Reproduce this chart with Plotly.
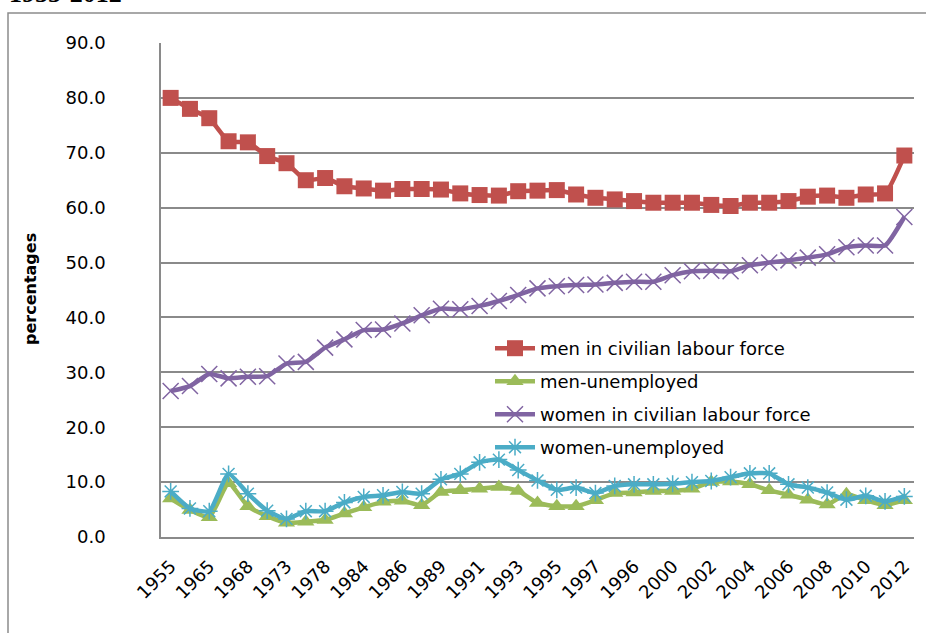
import plotly.graph_objects as go

# Survey years (only every second one is labelled on the axis)
years = ["1955", "1960", "1965", "1967", "1968", "1970", "1973", "1975", "1978", "1980",
         "1984", "1985", "1986", "1987", "1989", "1990", "1991", "1992", "1993", "1994",
         "1995", "1996", "1997", "1998", "1996", "1999", "2000", "2001", "2002", "2003",
         "2004", "2005", "2006", "2007", "2008", "2009", "2010", "2011", "2012"]

men_labour = [80.0, 78.0, 76.3, 72.1, 71.9, 69.4, 68.1, 65.0, 65.4, 63.9,
              63.5, 63.1, 63.4, 63.4, 63.3, 62.6, 62.3, 62.2, 63.0, 63.1,
              63.2, 62.4, 61.8, 61.5, 61.2, 60.9, 60.9, 60.9, 60.5, 60.3,
              60.9, 60.9, 61.2, 62.0, 62.2, 61.8, 62.4, 62.6, 69.5]

men_unemployed = [7.0, 4.9, 3.6, 9.8, 5.6, 3.8, 2.6, 2.8, 3.1, 4.3,
                  5.4, 6.4, 6.6, 5.8, 8.2, 8.5, 8.8, 9.1, 8.4, 6.2,
                  5.6, 5.6, 6.7, 8.0, 8.1, 8.4, 8.4, 8.8, 10.0, 10.1,
                  9.6, 8.5, 7.7, 6.8, 5.9, 7.8, 6.7, 5.8, 6.7]

women_labour = [26.6, 27.5, 29.7, 28.9, 29.2, 29.3, 31.6, 31.9, 34.5, 36.0,
                37.7, 37.8, 38.9, 40.4, 41.6, 41.5, 42.1, 43.0, 44.1, 45.3,
                45.7, 45.9, 46.0, 46.3, 46.5, 46.5, 47.7, 48.4, 48.5, 48.4,
                49.5, 50.0, 50.4, 50.9, 51.5, 52.8, 53.1, 53.1, 58.3]

women_unemployed = [8.3, 5.2, 4.7, 11.5, 7.9, 4.8, 3.3, 4.7, 4.7, 6.3,
                    7.3, 7.6, 8.2, 7.9, 10.5, 11.5, 13.6, 14.1, 12.2, 10.3,
                    8.6, 9.0, 8.0, 9.3, 9.6, 9.6, 9.7, 10.0, 10.2, 10.9,
                    11.6, 11.6, 9.6, 9.0, 8.1, 6.8, 7.5, 6.5, 7.4]

y_ticks = [0, 10, 20, 30, 40, 50, 60, 70, 80, 90]

pos = list(range(len(years)))

series = [
    ("men in civilian labour force", men_labour, "#C0504D",
     dict(symbol="square", size=16)),
    ("men-unemployed", men_unemployed, "#9BBB59",
     dict(symbol="triangle-up", size=15)),
    ("women in civilian labour force", women_labour, "#8064A2",
     dict(symbol="x-thin-open", size=16, line=dict(width=1.5, color="#8064A2"))),
    ("women-unemployed", women_unemployed, "#4BACC6",
     dict(symbol="asterisk-open", size=14, line=dict(width=1.5, color="#4BACC6"))),
]

# plot-area geometry in pixels, used to place paper-referenced extras
L, R, T, B = 161, 914, 43, 537
W, H = R - L, B - T


def px_x(p):
    return (p - L) / W


def px_y(p):
    return (B - p) / H


fig = go.Figure()
for i, (name, vals, color, marker) in enumerate(series):
    fig.add_trace(go.Scatter(
        x=pos, y=vals, name=name, mode="lines+markers",
        line=dict(color=color, width=4.5, shape="spline", smoothing=0.5),
        marker=dict(color=color, **marker),
        legendgroup=f"g{i}",
    ))

fig.update_layout(
    width=926, height=633,
    margin=dict(l=L, r=926 - R, t=T, b=633 - B),
    paper_bgcolor="white", plot_bgcolor="white",
    font=dict(family="DejaVu Sans", size=18, color="black"),
    showlegend=True,
    legend=dict(
        x=px_x(490), y=px_y(330), xanchor="left", yanchor="top",
        bgcolor="rgba(0,0,0,0)", borderwidth=0,
        font=dict(family="DejaVu Sans", size=18, color="black"),
        tracegroupgap=6.6, itemwidth=40,
    ),
    xaxis=dict(
        range=[-0.5, len(years) - 0.5],
        tickvals=pos[::2], ticktext=years[::2],
        tickangle=-45, showgrid=False, zeroline=False,
        showline=True, linecolor="#8a8a8a", linewidth=1.5,
        ticks="", ticklabelstandoff=10,
        tickfont=dict(family="DejaVu Sans", size=18),
    ),
    yaxis=dict(
        range=[0, 90], tickvals=y_ticks,
        ticktext=[f"{v:.1f}" for v in y_ticks],
        showgrid=True, gridcolor="#8a8a8a", gridwidth=1.5,
        zeroline=False, showline=True, linecolor="#8a8a8a", linewidth=1.5,
        ticks="", ticklabelstandoff=50,
        tickfont=dict(family="DejaVu Sans", size=18),
    ),
    shapes=[dict(
        type="rect", xref="paper", yref="paper",
        x0=px_x(8), x1=px_x(940), y0=px_y(650), y1=px_y(13),
        line=dict(color="#8c8c8c", width=1.5), fillcolor="rgba(0,0,0,0)",
        layer="below",
    )],
    annotations=[
        dict(text="<b>1955-2012</b>", xref="paper", yref="paper",
             x=px_x(7), y=px_y(10), xanchor="left", yanchor="bottom",
             showarrow=False,
             font=dict(family="Liberation Serif", size=26, color="black")),
        dict(text="<b>percentages</b>", xref="paper", yref="paper",
             x=px_x(30), y=px_y(289), xanchor="center", yanchor="middle",
             textangle=-90, showarrow=False,
             font=dict(family="DejaVu Sans", size=16, color="black")),
    ],
)

fig.write_html("out.html")
